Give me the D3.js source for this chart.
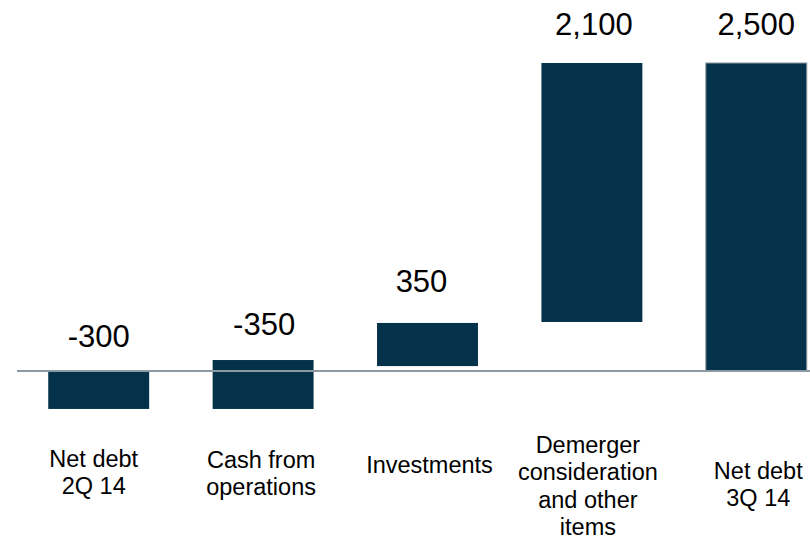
<!DOCTYPE html>
<html>
<head>
<meta charset="utf-8">
<script src="https://cdn.jsdelivr.net/npm/d3@7"></script>
<style>
  html, body { margin: 0; padding: 0; background: #fff; }
  text { font-family: "Liberation Sans", Arial, sans-serif; fill: #000; }
</style>
</head>
<body>
<div id="chart"></div>
<script>
// chart data
const categories = ["Net debt\n2Q 14", "Cash from\noperations", "Investments", "Demerger\nconsideration\nand other\nitems", "Net debt\n3Q 14"]
const valueLabels = ["-300", "-350", "350", "2,100", "2,500"]
// floating bar extents (same units as labels)
const barLow = [-308, -308, 40, 398, 0]
const barHigh = [0, 89, 390, 2500, 2500]

// layout: baseline of first category line, and small horizontal nudges
const catLabelY = [467, 468, 473, 453, 479]
const catLabelDx = [-5, -2, 2, -4, 2]
const valueLabelDx = [0, 1, -6, 2, 0]
const valueLabelGap = [24, 25, 31, 28, 28]

const width = 810, height = 542

const svg = d3.select("#chart")
  .append("svg")
  .attr("width", width)
  .attr("height", height)

// x: band per category
const x = d3.scaleBand()
  .domain(d3.range(categories.length))
  .range([17, 838])
  .paddingInner(0.386)
  .paddingOuter(0.19)

// y: value to pixel
const y = d3.scaleLinear()
  .domain([0, 2500])
  .range([371, 63])

const barColor = "#04324a"
const axisColor = "#8c99a3"

// bars
svg.selectAll("rect.bar")
  .data(categories)
  .enter()
  .append("rect")
  .attr("class", "bar")
  .attr("x", (d, i) => x(i))
  .attr("y", (d, i) => y(barHigh[i]))
  .attr("width", x.bandwidth())
  .attr("height", (d, i) => y(barLow[i]) - y(barHigh[i]))
  .attr("fill", barColor)
  .attr("stroke", (d, i) => i === categories.length - 1 ? axisColor : "none")
  .attr("stroke-width", 1)

// zero line
svg.append("line")
  .attr("x1", 17)
  .attr("x2", width)
  .attr("y1", y(0))
  .attr("y2", y(0))
  .attr("stroke", axisColor)
  .attr("stroke-width", 2)

// value labels above bars
svg.selectAll("text.value")
  .data(valueLabels)
  .enter()
  .append("text")
  .attr("class", "value")
  .attr("x", (d, i) => x(i) + x.bandwidth() / 2 + valueLabelDx[i])
  .attr("y", (d, i) => Math.min(y(barHigh[i]), y(0)) - valueLabelGap[i])
  .attr("text-anchor", "middle")
  .style("font-size", "31px")
  .text(d => d)

// category labels, multi-line
const cat = svg.selectAll("text.cat")
  .data(categories)
  .enter()
  .append("text")
  .attr("class", "cat")
  .attr("text-anchor", "middle")
  .style("font-size", "23.5px")
  .attr("y", (d, i) => catLabelY[i])

cat.each(function(d, i) {
  const lines = d.split("\n")
  const t = d3.select(this)
  lines.forEach((line, j) => {
    t.append("tspan")
      .attr("x", x(i) + x.bandwidth() / 2 + catLabelDx[i])
      .attr("dy", j === 0 ? 0 : 27.3)
      .text(line)
  })
})
</script>
</body>
</html>
